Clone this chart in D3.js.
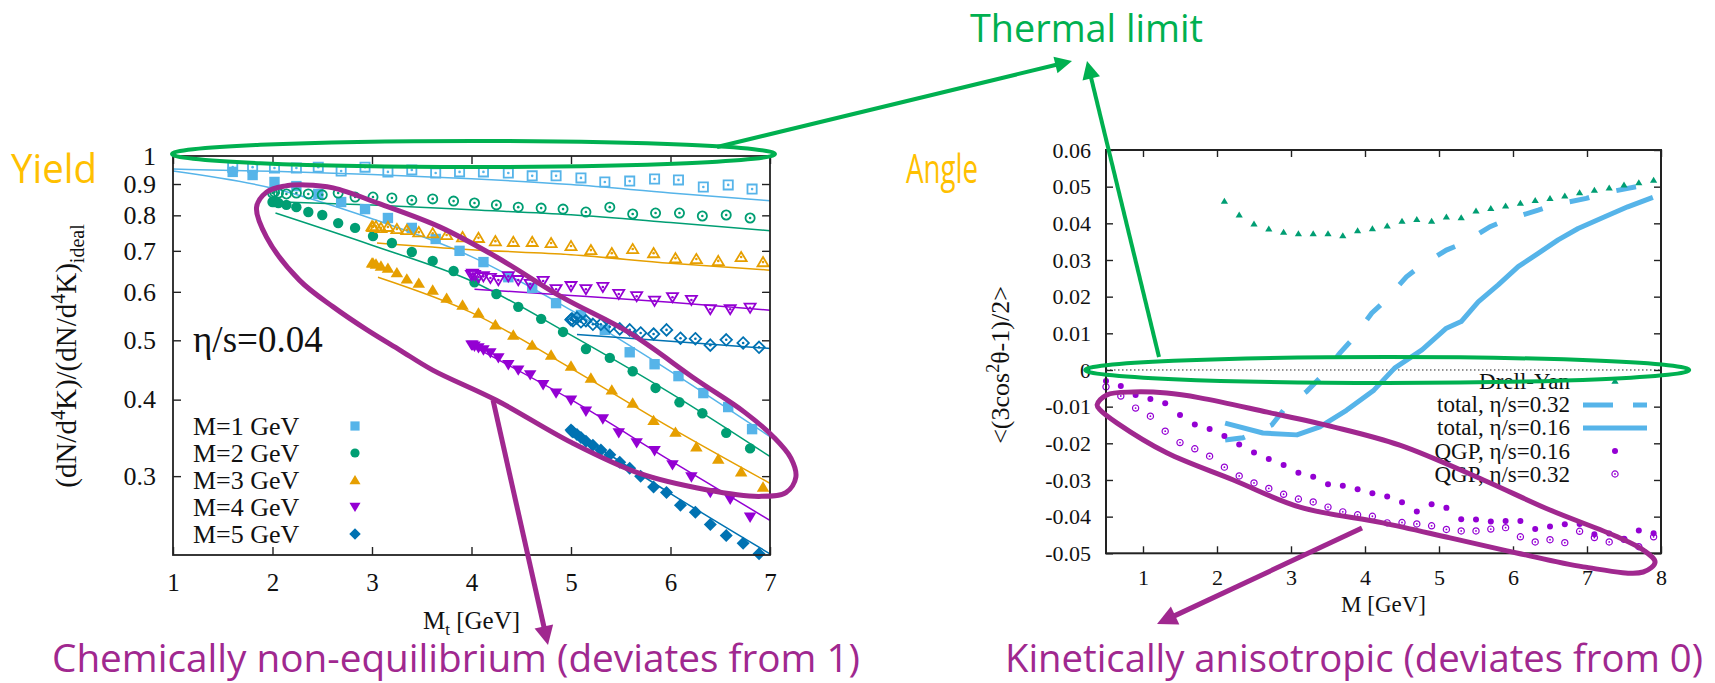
<!DOCTYPE html>
<html>
<head>
<meta charset="utf-8">
<title>Dilepton yield ratio and angular anisotropy</title>
<script src="https://cdn.jsdelivr.net/npm/d3@7"></script>
<style>
  html, body { margin: 0; padding: 0; background: #ffffff; }
  svg { display: block; }
  .serif { font-family: "Liberation Serif", "Times New Roman", serif; }
  .sans { font-family: "Open Sans", "Noto Sans", sans-serif; }
</style>
</head>
<body>
<svg id="fig" width="1715" height="683"></svg>
<script>
// ================= Left panel: yield ratio vs transverse mass (eta/s = 0.04) =================
const massLabels = ["M=1 GeV", "M=2 GeV", "M=3 GeV", "M=4 GeV", "M=5 GeV"];
const xTicksLeft = [1, 2, 3, 4, 5, 6, 7];
const yTicksLeft = [0.3, 0.4, 0.5, 0.6, 0.7, 0.8, 0.9, 1];

// transverse-mass points of each invariant-mass bin
const mtM1 = [1.60, 1.80, 2.02, 2.24, 2.46, 2.69, 2.93, 3.16, 3.40, 3.64, 3.88, 4.12, 4.37, 4.61, 4.85, 5.10, 5.34, 5.59, 5.84, 6.08, 6.33, 6.58, 6.82];
const mtM2 = [2.00, 2.02, 2.06, 2.14, 2.24, 2.36, 2.50, 2.66, 2.83, 3.01, 3.20, 3.40, 3.61, 3.82, 4.03, 4.25, 4.47, 4.70, 4.92, 5.15, 5.39, 5.62, 5.85, 6.09, 6.32, 6.56, 6.80];
const mtM3 = [3.00, 3.01, 3.04, 3.09, 3.16, 3.25, 3.35, 3.47, 3.61, 3.75, 3.91, 4.07, 4.24, 4.42, 4.61, 4.80, 5.00, 5.20, 5.41, 5.62, 5.83, 6.05, 6.26, 6.48, 6.71, 6.93];
const mtM4 = [4.00, 4.01, 4.03, 4.07, 4.12, 4.19, 4.27, 4.37, 4.47, 4.59, 4.72, 4.85, 5.00, 5.15, 5.32, 5.48, 5.66, 5.84, 6.02, 6.21, 6.40, 6.60, 6.80];
const mtM5 = [5.00, 5.01, 5.02, 5.06, 5.10, 5.15, 5.22, 5.30, 5.39, 5.49, 5.59, 5.70, 5.83, 5.96, 6.10, 6.25, 6.40, 6.56, 6.73, 6.89];

// filled symbols
const ratioM1 = [0.942, 0.931, 0.907, 0.893, 0.867, 0.841, 0.819, 0.792, 0.763, 0.732, 0.700, 0.671, 0.634, 0.609, 0.575, 0.550, 0.520, 0.478, 0.457, 0.437, 0.410, 0.389, 0.358];
const ratioM2 = [0.841, 0.841, 0.838, 0.832, 0.825, 0.810, 0.801, 0.777, 0.763, 0.740, 0.721, 0.697, 0.674, 0.649, 0.622, 0.595, 0.567, 0.542, 0.516, 0.484, 0.468, 0.445, 0.418, 0.396, 0.380, 0.353, 0.333];
const ratioM3 = [0.669, 0.669, 0.666, 0.661, 0.656, 0.645, 0.630, 0.620, 0.604, 0.586, 0.571, 0.554, 0.530, 0.510, 0.491, 0.473, 0.454, 0.434, 0.415, 0.395, 0.370, 0.354, 0.335, 0.320, 0.305, 0.288];
const ratioM4 = [0.491, 0.491, 0.489, 0.486, 0.482, 0.477, 0.468, 0.456, 0.447, 0.439, 0.423, 0.410, 0.399, 0.383, 0.372, 0.353, 0.340, 0.330, 0.313, 0.299, 0.282, 0.275, 0.257];
const ratioM5 = [0.357, 0.355, 0.354, 0.351, 0.347, 0.342, 0.337, 0.331, 0.325, 0.316, 0.309, 0.300, 0.288, 0.282, 0.269, 0.262, 0.250, 0.240, 0.233, 0.224];

// open symbols
const ratioM1Open = [0.959, 0.959, 0.956, 0.956, 0.959, 0.945, 0.959, 0.942, 0.949, 0.938, 0.942, 0.942, 0.938, 0.928, 0.928, 0.921, 0.907, 0.910, 0.917, 0.914, 0.890, 0.897, 0.883];
const ratioM2Open = [0.870, 0.873, 0.870, 0.867, 0.870, 0.867, 0.864, 0.870, 0.857, 0.857, 0.854, 0.847, 0.851, 0.844, 0.838, 0.832, 0.825, 0.822, 0.819, 0.810, 0.825, 0.804, 0.807, 0.807, 0.798, 0.801, 0.792];
const ratioM3Open = [0.768, 0.766, 0.768, 0.763, 0.766, 0.760, 0.757, 0.751, 0.748, 0.743, 0.737, 0.735, 0.726, 0.724, 0.724, 0.721, 0.713, 0.702, 0.694, 0.705, 0.694, 0.681, 0.679, 0.674, 0.684, 0.671];
const ratioM4Open = [0.639, 0.642, 0.639, 0.634, 0.636, 0.632, 0.627, 0.636, 0.627, 0.618, 0.625, 0.606, 0.613, 0.606, 0.611, 0.595, 0.590, 0.580, 0.588, 0.582, 0.562, 0.562, 0.565];
const ratioM5Open = [0.540, 0.542, 0.538, 0.544, 0.536, 0.538, 0.531, 0.531, 0.526, 0.522, 0.520, 0.514, 0.512, 0.520, 0.504, 0.503, 0.491, 0.501, 0.495, 0.487];

// curves through the filled points
const curveMtM1 = [1, 2, 3, 4, 5, 6, 7];
const curveM1 = [0.945, 0.886, 0.790, 0.685, 0.560, 0.445, 0.348];
const curveMtM2 = [2.03, 3, 4, 5, 6, 7];
const curveM2 = [0.807, 0.715, 0.625, 0.510, 0.410, 0.323];
const curveMtM3 = [3.06, 4, 5, 6, 7];
const curveM3 = [0.634, 0.555, 0.450, 0.360, 0.292];
const curveMtM4 = [4, 5, 6, 7];
const curveM4 = [0.490, 0.400, 0.318, 0.254];
const curveMtM5 = [5, 6, 7];
const curveM5 = [0.357, 0.281, 0.224];

// curves through the open points
const curveMtM1Open = [1, 2, 3, 4, 5, 6, 7];
const curveM1Open = [0.952, 0.944, 0.933, 0.918, 0.898, 0.870, 0.845];
const curveMtM2Open = [2.03, 3, 4, 5, 6, 7];
const curveM2Open = [0.842, 0.832, 0.817, 0.802, 0.779, 0.755];
const curveMtM3Open = [3.05, 4, 5, 6, 7];
const curveM3Open = [0.721, 0.703, 0.690, 0.668, 0.651];
const curveMtM4Open = [4.03, 5, 6, 7];
const curveM4Open = [0.606, 0.592, 0.577, 0.560];
const curveMtM5Open = [5.06, 6, 7];
const curveM5Open = [0.511, 0.498, 0.485];

// ================= Right panel: <(3cos^2(theta)-1)/2> vs M =================
const xTicksRight = [1, 2, 3, 4, 5, 6, 7, 8];
const yTicksRight = [-0.05, -0.04, -0.03, -0.02, -0.01, 0, 0.01, 0.02, 0.03, 0.04, 0.05, 0.06];
const legendRight = ["Drell-Yan", "total, η/s=0.32", "total, η/s=0.16", "QGP, η/s=0.16", "QGP, η/s=0.32"];

const massDY = [2.1, 2.3, 2.5, 2.7, 2.9, 3.1, 3.3, 3.5, 3.7, 3.9, 4.1, 4.3, 4.5, 4.7, 4.9, 5.1, 5.3, 5.5, 5.7, 5.9, 6.1, 6.3, 6.5, 6.7, 6.9, 7.1, 7.3, 7.5, 7.7, 7.9];
const drellYan = [0.0461, 0.0423, 0.0399, 0.0385, 0.0376, 0.0372, 0.0372, 0.0372, 0.0367, 0.0380, 0.0386, 0.0393, 0.0406, 0.0411, 0.0406, 0.0418, 0.0416, 0.0434, 0.0441, 0.0448, 0.0455, 0.0463, 0.0468, 0.0475, 0.0484, 0.0491, 0.0497, 0.0505, 0.0511, 0.0518];

const massTotal032 = [2.11, 2.35, 2.74, 2.92, 3.21, 3.41, 3.66, 3.84, 4.09, 4.27, 4.56, 4.74, 5.10, 5.33, 5.69, 5.91, 6.34, 6.54, 6.99, 7.22, 7.67, 7.87];
const total032 = [-0.0191, -0.0185, -0.0150, -0.0104, -0.0059, -0.0018, 0.0046, 0.0086, 0.0155, 0.0188, 0.0254, 0.0282, 0.0327, 0.0346, 0.0391, 0.0409, 0.0436, 0.0450, 0.0468, 0.0482, 0.0500, 0.0514];

const massTotal016 = [2.11, 2.62, 3.08, 3.39, 3.75, 4.12, 4.40, 4.77, 5.10, 5.30, 5.53, 5.80, 6.07, 6.34, 6.61, 6.88, 7.24, 7.55, 7.89];
const total016 = [-0.0145, -0.0172, -0.0177, -0.0155, -0.0110, -0.0055, 0.0005, 0.0055, 0.0114, 0.0132, 0.0186, 0.0232, 0.0282, 0.0318, 0.0355, 0.0386, 0.0418, 0.0445, 0.0471];

const massQGP = [0.5, 0.7, 0.9, 1.1, 1.3, 1.5, 1.7, 1.9, 2.1, 2.3, 2.5, 2.7, 2.9, 3.1, 3.3, 3.5, 3.7, 3.9, 4.1, 4.3, 4.5, 4.7, 4.9, 5.1, 5.3, 5.5, 5.7, 5.9, 6.1, 6.3, 6.5, 6.7, 6.9, 7.1, 7.3, 7.5, 7.7, 7.9];
const qgp016 = [-0.0030, -0.0044, -0.0068, -0.0079, -0.0091, -0.0123, -0.0149, -0.0161, -0.0180, -0.0203, -0.0225, -0.0243, -0.0259, -0.0280, -0.0291, -0.0312, -0.0316, -0.0325, -0.0336, -0.0345, -0.0361, -0.0386, -0.0366, -0.0376, -0.0407, -0.0408, -0.0413, -0.0412, -0.0412, -0.0434, -0.0427, -0.0421, -0.0420, -0.0448, -0.0446, -0.0461, -0.0438, -0.0445];
const qgp032 = [-0.0046, -0.0071, -0.0104, -0.0126, -0.0167, -0.0198, -0.0215, -0.0235, -0.0265, -0.0289, -0.0308, -0.0323, -0.0339, -0.0352, -0.0360, -0.0374, -0.0387, -0.0395, -0.0399, -0.0417, -0.0416, -0.0420, -0.0425, -0.0435, -0.0439, -0.0439, -0.0434, -0.0430, -0.0455, -0.0469, -0.0463, -0.0471, -0.0440, -0.0457, -0.0469, -0.0462, -0.0482, -0.0455];

// outlines of the highlighted regions (in each panel's data units)
const leftOutlineMt = [1.84, 1.94, 2.12, 2.33, 2.61, 3.08, 3.68, 4.25, 4.91, 5.59, 6.26, 6.74, 7.04, 7.21, 7.26, 7.16, 6.89, 6.36, 5.69, 5.01, 4.25, 3.61, 3.28, 2.95, 2.61, 2.27, 1.94];
const leftOutlineVal = [0.825, 0.873, 0.893, 0.897, 0.887, 0.835, 0.766, 0.684, 0.588, 0.514, 0.431, 0.382, 0.347, 0.321, 0.299, 0.282, 0.278, 0.285, 0.303, 0.340, 0.399, 0.447, 0.482, 0.520, 0.567, 0.627, 0.737];
const rightOutlineM = [0.38, 0.51, 0.87, 1.32, 1.77, 2.68, 3.57, 4.47, 5.60, 6.50, 7.41, 7.76, 7.92, 7.76, 6.95, 6.05, 5.15, 4.24, 3.12, 2.22, 1.32, 0.65, 0.42];
const rightOutlineVal = [-0.0095, -0.0068, -0.0060, -0.0063, -0.0076, -0.0115, -0.0155, -0.0205, -0.0300, -0.0382, -0.0455, -0.0491, -0.0524, -0.0551, -0.0537, -0.0499, -0.0458, -0.0417, -0.0374, -0.0300, -0.0226, -0.0145, -0.0109];

// ================= drawing =================
const C = { sky: "#56B4E9", green: "#009E73", orange: "#E69F00", violet: "#9400D3", blue: "#0072B2" };
const NOTE_GREEN = "#00B050", NOTE_ORANGE = "#FFC000", NOTE_PURPLE = "#A0288F";
const INK = "#111";

const svg = d3.select("#fig");
svg.append("rect").attr("width", 1715).attr("height", 683).attr("fill", "#fff");

const zip = (xs, ys) => xs.map((x, i) => [x, ys[i]]);

// symbol outlines centred on the origin, s = half size
function shape(kind, s) {
  switch (kind) {
    case "square": return `M${-s},${-s}H${s}V${s}H${-s}Z`;
    case "circle": return `M${s},0A${s},${s} 0 1,1 ${-s},0A${s},${s} 0 1,1 ${s},0Z`;
    case "triUp": return `M0,${-s * 1.1}L${s * 1.2},${s * 0.9}L${-s * 1.2},${s * 0.9}Z`;
    case "triDown": return `M0,${s * 1.1}L${s * 1.2},${-s * 0.9}L${-s * 1.2},${-s * 0.9}Z`;
    case "diamond": return `M0,${-s * 1.25}L${s * 1.25},0L0,${s * 1.25}L${-s * 1.25},0Z`;
  }
}

function drawPoints(g, pts, kind, color, s, open, strokeW) {
  const sel = g.append("g").selectAll("g").data(pts).join("g")
    .attr("transform", d => `translate(${d[0]},${d[1]})`);
  sel.append("path").attr("d", shape(kind, s))
    .attr("fill", open ? "none" : color)
    .attr("stroke", open ? color : "none")
    .attr("stroke-width", strokeW || 1.8);
  if (open) sel.append("circle").attr("r", s > 4 ? 1.3 : 0.9).attr("fill", color);
}

// ---------- left panel ----------
const xL = d3.scaleLinear().domain([1, 7]).range([173, 770]);
const yL = d3.scaleLog().domain([0.223, 1]).range([555, 156]);
const left = svg.append("g");

const leftSeries = [
  { kind: "square", color: C.sky, mt: mtM1, full: ratioM1, open: ratioM1Open, cfx: curveMtM1, cf: curveM1, cox: curveMtM1Open, co: curveM1Open },
  { kind: "circle", color: C.green, mt: mtM2, full: ratioM2, open: ratioM2Open, cfx: curveMtM2, cf: curveM2, cox: curveMtM2Open, co: curveM2Open },
  { kind: "triUp", color: C.orange, mt: mtM3, full: ratioM3, open: ratioM3Open, cfx: curveMtM3, cf: curveM3, cox: curveMtM3Open, co: curveM3Open },
  { kind: "triDown", color: C.violet, mt: mtM4, full: ratioM4, open: ratioM4Open, cfx: curveMtM4, cf: curveM4, cox: curveMtM4Open, co: curveM4Open },
  { kind: "diamond", color: C.blue, mt: mtM5, full: ratioM5, open: ratioM5Open, cfx: curveMtM5, cf: curveM5, cox: curveMtM5Open, co: curveM5Open }
];

const lineL = d3.line().x(d => xL(d[0])).y(d => yL(d[1])).curve(d3.curveMonotoneX);
leftSeries.forEach(s => {
  left.append("path").attr("d", lineL(zip(s.cox, s.co))).attr("fill", "none").attr("stroke", s.color).attr("stroke-width", 1.5);
  left.append("path").attr("d", lineL(zip(s.cfx, s.cf))).attr("fill", "none").attr("stroke", s.color).attr("stroke-width", 1.5);
});
leftSeries.forEach(s => {
  drawPoints(left, s.mt.map((m, i) => [xL(m), yL(s.open[i])]), s.kind, s.color, 4.6, true, 1.8);
  drawPoints(left, s.mt.map((m, i) => [xL(m), yL(s.full[i])]), s.kind, s.color, 5.2, false);
});

// axes (ticks point inward, mirrored on top/right)
function styleAxis(g, size) {
  g.attr("font-family", null).attr("font-size", null);
  g.select(".domain").remove();
  g.selectAll("line").attr("stroke", "#222").attr("stroke-width", 1.4);
  g.selectAll("text").attr("class", "serif").style("font-size", size + "px").attr("fill", INK);
}
function mirror(g) {
  g.select(".domain").remove();
  g.selectAll("text").remove();
  g.selectAll("line").attr("stroke", "#222").attr("stroke-width", 1.4);
}
left.append("g").attr("transform", `translate(0,${yL.range()[0]})`)
  .call(d3.axisBottom(xL).tickValues(xTicksLeft).tickSize(-8).tickPadding(18).tickFormat(d3.format("d")))
  .call(g => styleAxis(g, 25));
left.append("g").attr("transform", `translate(0,${yL.range()[1]})`)
  .call(d3.axisTop(xL).tickValues(xTicksLeft).tickSize(-8)).call(mirror);
left.append("g").attr("transform", `translate(${xL.range()[0]},0)`)
  .call(d3.axisLeft(yL).tickValues(yTicksLeft).tickSize(-8).tickPadding(17).tickFormat(d => d === 1 ? "1" : d.toFixed(1)))
  .call(g => styleAxis(g, 26));
left.append("g").attr("transform", `translate(${xL.range()[1]},0)`)
  .call(d3.axisRight(yL).tickValues(yTicksLeft).tickSize(-8)).call(mirror);
left.append("rect").attr("x", xL.range()[0]).attr("y", yL.range()[1])
  .attr("width", xL.range()[1] - xL.range()[0]).attr("height", yL.range()[0] - yL.range()[1])
  .attr("fill", "none").attr("stroke", "#222").attr("stroke-width", 1.8);

// left legend
const legL = left.append("g");
massLabels.forEach((lab, i) => {
  const base = 435 + i * 27;
  legL.append("text").attr("class", "serif").attr("x", 193).attr("y", base).style("font-size", "26px").attr("fill", INK).text(lab);
  drawPoints(legL, [[355, base - 9]], leftSeries[i].kind, leftSeries[i].color, 4.6, false);
});
left.append("text").attr("class", "serif").attr("x", 193).attr("y", 352).style("font-size", "37px").attr("fill", INK).text("η/s=0.04");

// left axis titles
const xtl = left.append("text").attr("class", "serif").attr("x", (xL.range()[0] + xL.range()[1]) / 2).attr("y", 629)
  .attr("text-anchor", "middle").style("font-size", "25px").attr("fill", INK);
xtl.append("tspan").text("M");
xtl.append("tspan").style("font-size", "17px").attr("dy", 6).text("t");
xtl.append("tspan").attr("dy", -6).text(" [GeV]");

const ytl = left.append("text").attr("class", "serif").attr("transform", "translate(76,356) rotate(-90)")
  .attr("text-anchor", "middle").style("font-size", "29px").attr("fill", INK);
ytl.append("tspan").text("(dN/d");
ytl.append("tspan").style("font-size", "20px").attr("dy", -11).text("4");
ytl.append("tspan").attr("dy", 11).text("K)/(dN/d");
ytl.append("tspan").style("font-size", "20px").attr("dy", -11).text("4");
ytl.append("tspan").attr("dy", 11).text("K)");
ytl.append("tspan").style("font-size", "20px").attr("dy", 8).text("ideal");

// ---------- right panel ----------
const xR = d3.scaleLinear().domain([0.5, 8]).range([1106, 1661]);
const yR = d3.scaleLinear().domain([-0.05, 0.06]).range([553.3, 150]);
const right = svg.append("g");

// zero reference
right.append("line").attr("x1", xR(0.5)).attr("x2", xR(8)).attr("y1", yR(0)).attr("y2", yR(0))
  .attr("stroke", "#222").attr("stroke-width", 1).attr("stroke-dasharray", "1.5,2.5");

const lineR = d3.line().x(d => xR(d[0])).y(d => yR(d[1]));
right.append("path").attr("d", lineR(zip(massTotal032, total032))).attr("fill", "none")
  .attr("stroke", C.sky).attr("stroke-width", 5).attr("stroke-dasharray", "20,28");
right.append("path").attr("d", lineR(zip(massTotal016, total016))).attr("fill", "none")
  .attr("stroke", C.sky).attr("stroke-width", 5).attr("stroke-linejoin", "round");
drawPoints(right, zip(massDY, drellYan).map(d => [xR(d[0]), yR(d[1])]), "triUp", C.green, 3.0, false);
drawPoints(right, zip(massQGP, qgp032).map(d => [xR(d[0]), yR(d[1])]), "circle", C.violet, 3.1, true, 1.2);
drawPoints(right, zip(massQGP, qgp016).map(d => [xR(d[0]), yR(d[1])]), "circle", C.violet, 3.0, false);

const fmtR = d => d === 0 ? "0" : (d < 0 ? "-" : "") + Math.abs(d).toFixed(2);
right.append("g").attr("transform", `translate(0,${yR.range()[0]})`)
  .call(d3.axisBottom(xR).tickValues(xTicksRight).tickSize(-7).tickPadding(16).tickFormat(d3.format("d")))
  .call(g => styleAxis(g, 22));
right.append("g").attr("transform", `translate(0,${yR.range()[1]})`)
  .call(d3.axisTop(xR).tickValues(xTicksRight).tickSize(-7)).call(mirror);
right.append("g").attr("transform", `translate(${xR.range()[0]},0)`)
  .call(d3.axisLeft(yR).tickValues(yTicksRight).tickSize(-7).tickPadding(15).tickFormat(fmtR))
  .call(g => styleAxis(g, 22));
right.append("g").attr("transform", `translate(${xR.range()[1]},0)`)
  .call(d3.axisRight(yR).tickValues(yTicksRight).tickSize(-7)).call(mirror);
right.append("rect").attr("x", xR.range()[0]).attr("y", yR.range()[1])
  .attr("width", xR.range()[1] - xR.range()[0]).attr("height", yR.range()[0] - yR.range()[1])
  .attr("fill", "none").attr("stroke", "#222").attr("stroke-width", 2);

// right legend
const legR = right.append("g");
legendRight.forEach((lab, i) => {
  const base = 389 + i * 23.2;
  legR.append("text").attr("class", "serif").attr("x", 1570).attr("y", base).attr("text-anchor", "end")
    .style("font-size", "23px").attr("fill", INK).text(lab);
});
drawPoints(legR, [[1615, 381]], "triUp", C.green, 3.0, false);
legR.append("line").attr("x1", 1583).attr("x2", 1647).attr("y1", 405).attr("y2", 405)
  .attr("stroke", C.sky).attr("stroke-width", 5).attr("stroke-dasharray", "30,20");
legR.append("line").attr("x1", 1583).attr("x2", 1647).attr("y1", 428).attr("y2", 428)
  .attr("stroke", C.sky).attr("stroke-width", 5);
drawPoints(legR, [[1615, 451]], "circle", C.violet, 3.0, false);
drawPoints(legR, [[1615, 474]], "circle", C.violet, 3.1, true, 1.2);

// right axis titles
right.append("text").attr("class", "serif").attr("x", (xR.range()[0] + xR.range()[1]) / 2).attr("y", 612)
  .attr("text-anchor", "middle").style("font-size", "23px").attr("fill", INK).text("M [GeV]");
const ytr = right.append("text").attr("class", "serif").attr("transform", "translate(1009,365) rotate(-90)")
  .attr("text-anchor", "middle").style("font-size", "26px").attr("fill", INK);
ytr.append("tspan").text("<(3cos");
ytr.append("tspan").style("font-size", "18px").attr("dy", -10).text("2");
ytr.append("tspan").attr("dy", 10).text("θ-1)/2>");

// ================= slide annotations =================
const notes = svg.append("g");

function arrow(x1, y1, x2, y2, color, w, hl, hw) {
  const dx = x2 - x1, dy = y2 - y1, L = Math.hypot(dx, dy);
  const ux = dx / L, uy = dy / L, bx = x2 - ux * hl, by = y2 - uy * hl;
  notes.append("line").attr("x1", x1).attr("y1", y1).attr("x2", bx + ux * 2).attr("y2", by + uy * 2)
    .attr("stroke", color).attr("stroke-width", w);
  notes.append("path")
    .attr("d", `M${x2},${y2}L${bx - uy * hw / 2},${by + ux * hw / 2}L${bx + uy * hw / 2},${by - ux * hw / 2}Z`)
    .attr("fill", color);
}

// green: thermal limit y=1 (left) and zero anisotropy (right)
notes.append("ellipse").attr("cx", (xL.range()[0] + xL.range()[1]) / 2 + 2).attr("cy", yL(1) - 2)
  .attr("rx", (xL.range()[1] - xL.range()[0]) / 2 + 3).attr("ry", 13)
  .attr("fill", "none").attr("stroke", NOTE_GREEN).attr("stroke-width", 4);
notes.append("ellipse").attr("cx", xR(4.30)).attr("cy", yR(0))
  .attr("rx", 302).attr("ry", 13)
  .attr("fill", "none").attr("stroke", NOTE_GREEN).attr("stroke-width", 4);
arrow(717, 147, 1072, 61, NOTE_GREEN, 4, 17, 17);
arrow(1159, 357, 1087, 61, NOTE_GREEN, 4, 18, 18);

// purple: deviations
const closed = d3.line().curve(d3.curveCatmullRomClosed.alpha(0.5));
notes.append("path").attr("d", closed(zip(leftOutlineMt, leftOutlineVal).map(d => [xL(d[0]), yL(d[1])])))
  .attr("fill", "none").attr("stroke", NOTE_PURPLE).attr("stroke-width", 5);
notes.append("path").attr("d", closed(zip(rightOutlineM, rightOutlineVal).map(d => [xR(d[0]), yR(d[1])])))
  .attr("fill", "none").attr("stroke", NOTE_PURPLE).attr("stroke-width", 5);
arrow(493, 400, 548, 645, NOTE_PURPLE, 5, 19, 19);
arrow(1362, 528, 1157, 624, NOTE_PURPLE, 5, 20, 20);

// slide text
const noteText = (x, y, txt, color, size, len) => {
  notes.append("text").attr("class", "sans").attr("x", x).attr("y", y)
    .style("font-size", size + "px").attr("fill", color)
    .attr("textLength", len).attr("lengthAdjust", "spacingAndGlyphs").text(txt);
};
noteText(970, 42, "Thermal limit", NOTE_GREEN, 39, 233);
noteText(11, 183, "Yield", NOTE_ORANGE, 41, 86);
noteText(906, 183, "Angle", NOTE_ORANGE, 41, 72);
noteText(52, 672, "Chemically non-equilibrium (deviates from 1)", NOTE_PURPLE, 38, 808);
noteText(1005, 672, "Kinetically anisotropic (deviates from 0)", NOTE_PURPLE, 38, 698);
</script>
</body>
</html>
